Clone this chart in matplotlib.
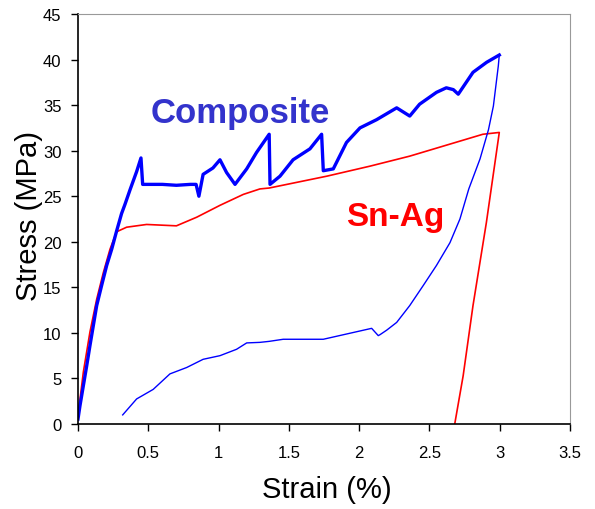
import matplotlib
matplotlib.use("Agg")
import matplotlib.pyplot as plt

plt.rcParams['font.family'] = ['Liberation Sans', 'DejaVu Sans']

# Composite (blue) loading curve
comp_load_x = [0, 0.014, 0.038, 0.062, 0.085, 0.109, 0.133, 0.168, 0.204, 0.24, 0.275,
               0.31, 0.334, 0.37, 0.417, 0.448,
               0.46, 0.5, 0.6, 0.7, 0.8, 0.84, 0.86, 0.89, 0.96, 1.01, 1.057, 1.117,
               1.2, 1.27, 1.36, 1.366, 1.437, 1.53, 1.65, 1.733, 1.745, 1.816, 1.91,
               2.006, 2.124, 2.267, 2.36, 2.43, 2.55, 2.62, 2.67, 2.705, 2.81, 2.907, 2.997]
comp_load_y = [0.55, 2.0, 4.2, 6.4, 8.6, 10.8, 13.0, 15.2, 17.4, 19.2, 21.2,
               23.1, 24.1, 25.7, 27.7, 29.2,
               26.3, 26.3, 26.3, 26.2, 26.3, 26.3, 25.0, 27.4, 28.1, 29.0, 27.6, 26.3,
               28.0, 29.8, 31.8, 26.3, 27.2, 29.0, 30.2, 31.8, 27.8, 28.0, 30.9,
               32.5, 33.4, 34.7, 33.8, 35.1, 36.4, 36.9, 36.7, 36.2, 38.6, 39.7, 40.5]

# Composite (blue) unloading curve
comp_unload_x = [2.997, 2.99, 2.955, 2.92, 2.86, 2.78, 2.717, 2.646, 2.55, 2.456, 2.36,
                 2.267, 2.196, 2.148, 2.136, 2.089, 1.745, 1.46, 1.36, 1.294, 1.2,
                 1.128, 1.01, 0.89, 0.773, 0.654, 0.535, 0.417, 0.318]
comp_unload_y = [40.5, 39.3, 34.9, 32.3, 29.1, 25.8, 22.5, 19.9, 17.4, 15.2, 13.0,
                 11.15, 10.3, 9.8, 9.7, 10.5, 9.3, 9.3, 9.07, 8.96, 8.9,
                 8.2, 7.5, 7.1, 6.2, 5.5, 3.8, 2.75, 1.0]

# Sn-Ag (red) loading + unloading
snag_x = [0, 0.038, 0.085, 0.133, 0.18, 0.228, 0.275, 0.346, 0.488, 0.70, 0.845,
          1.01, 1.176, 1.294, 1.36, 1.77, 2.077, 2.36, 2.88, 2.997, 2.905, 2.81,
          2.74, 2.68]
snag_y = [0.9, 5.7, 10.1, 13.7, 16.6, 19.2, 21.1, 21.6, 21.9, 21.75, 22.7,
          24.0, 25.2, 25.8, 25.9, 27.2, 28.3, 29.4, 31.8, 32.0, 22.1, 13.0,
          5.3, 0]

x_ticks = [0, 0.5, 1, 1.5, 2, 2.5, 3, 3.5]
x_tick_labels = ['0', '0.5', '1', '1.5', '2', '2.5', '3', '3.5']
y_ticks = [0, 5, 10, 15, 20, 25, 30, 35, 40, 45]

fig = plt.figure(figsize=(5.95, 5.10), dpi=100)
ax = fig.add_axes([78/595, 85/510, 492/595, 410/510])

ax.plot(snag_x, snag_y, color='#ff0000', lw=1.2)
ax.plot(comp_unload_x, comp_unload_y, color='#0000ff', lw=1.0)
ax.plot(comp_load_x, comp_load_y, color='#0000ff', lw=2.4)

ax.set_xlim(0, 3.5)
ax.set_ylim(0, 45)
ax.set_xticks(x_ticks)
ax.set_xticklabels(x_tick_labels)
ax.set_yticks(y_ticks)
ax.tick_params(direction='out', length=5, width=1, labelsize=12, colors='black')
ax.tick_params(axis='x', pad=10)
ax.tick_params(axis='y', pad=7)

for s in ['top', 'right']:
    ax.spines[s].set_color('#999999')
for s in ['left', 'bottom']:
    ax.spines[s].set_color('black')
    ax.spines[s].set_linewidth(1.2)

ax.set_xlabel('Strain (%)', fontsize=21)
ax.set_ylabel('Stress (MPa)', fontsize=21)
ax.xaxis.set_label_coords(0.5055, -0.1585)
ax.yaxis.set_label_coords(-0.1006, 0.51)
ax.xaxis.label.set_va('center')
ax.yaxis.label.set_va('center')

ax.text(1.152, 34.2, 'Composite', color='#3333cc', fontsize=25, fontweight='bold',
        ha='center', va='center')
ax.text(2.255, 22.8, 'Sn-Ag', color='#ff0000', fontsize=24, fontweight='bold',
        ha='center', va='center')

fig.savefig('out.png', dpi=100)
